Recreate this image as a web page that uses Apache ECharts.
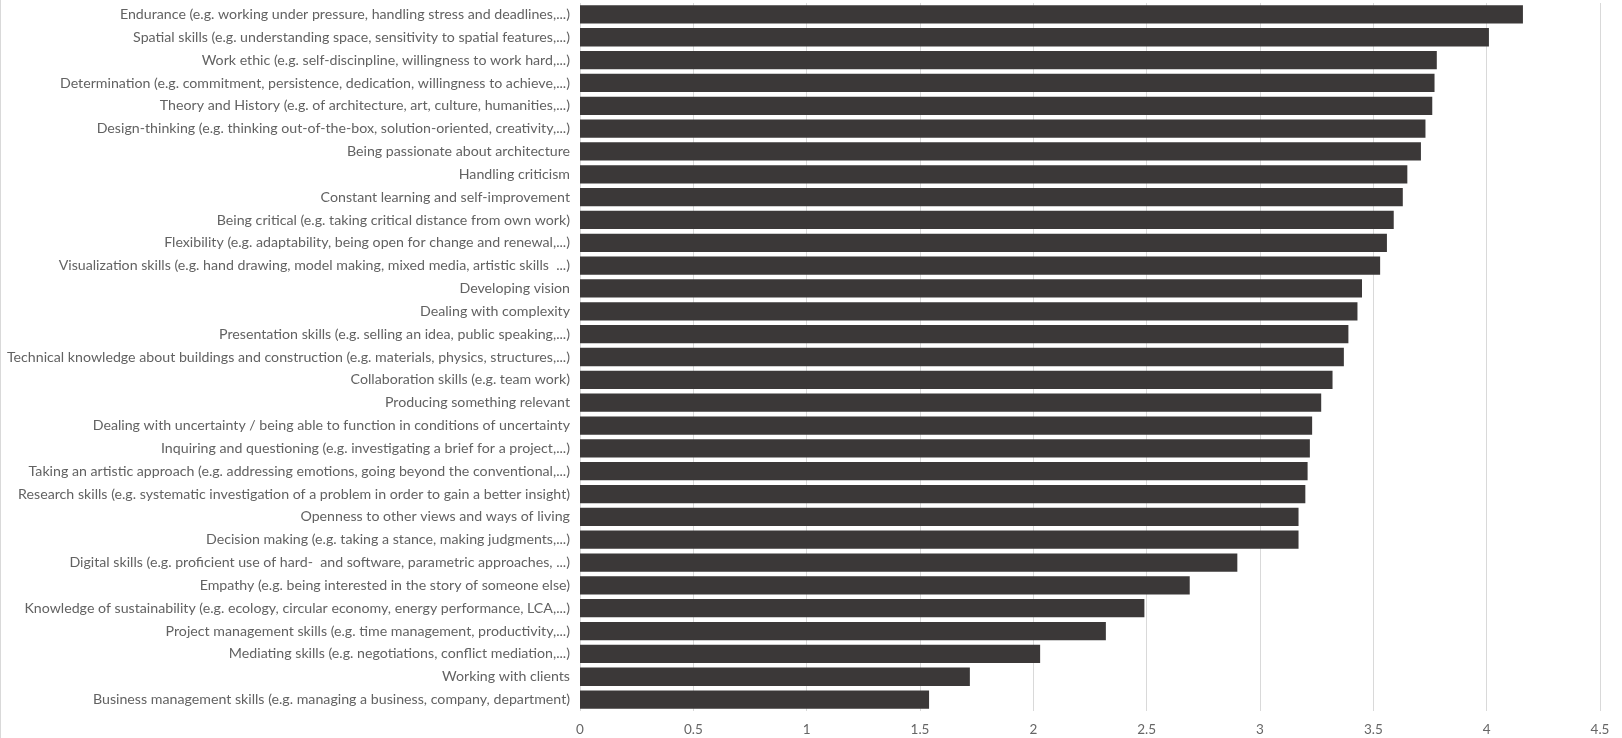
<!DOCTYPE html>
<html>
<head>
<meta charset="utf-8">
<title>Competences</title>
<script src="https://cdn.jsdelivr.net/npm/echarts@6/dist/echarts.min.js"></script>
<style>
  html, body { margin: 0; padding: 0; background: #ffffff; }
  #chart { width: 1622px; height: 738px; box-sizing: border-box; border-left: 1px solid #d9d9d9; }
</style>
</head>
<body>
<div id="chart"></div>
<script>
// Competences, from highest to lowest mean score
const categories = [
  "Endurance (e.g. working under pressure, handling stress and deadlines,...)",
  "Spatial skills (e.g. understanding space, sensitivity to spatial features,...)",
  "Work ethic (e.g. self-discinpline, willingness to work hard,...)",
  "Determination (e.g. commitment, persistence, dedication, willingness to achieve,...)",
  "Theory and History (e.g. of architecture, art, culture, humanities,...)",
  "Design-thinking (e.g. thinking out-of-the-box, solution-oriented, creativity,...)",
  "Being passionate about architecture",
  "Handling criticism",
  "Constant learning and self-improvement",
  "Being critical (e.g. taking critical distance from own work)",
  "Flexibility (e.g. adaptability, being open for change and renewal,...)",
  "Visualization skills (e.g. hand drawing, model making, mixed media, artistic skills  ...)",
  "Developing vision",
  "Dealing with complexity",
  "Presentation skills (e.g. selling an idea, public speaking,...)",
  "Technical knowledge about buildings and construction (e.g. materials, physics, structures,...)",
  "Collaboration skills (e.g. team work)",
  "Producing something relevant",
  "Dealing with uncertainty / being able to function in conditions of uncertainty",
  "Inquiring and questioning (e.g. investigating a brief for a project,...)",
  "Taking an artistic approach (e.g. addressing emotions, going beyond the conventional,...)",
  "Research skills (e.g. systematic investigation of a problem in order to gain a better insight)",
  "Openness to other views and ways of living",
  "Decision making (e.g. taking a stance, making judgments,...)",
  "Digital skills (e.g. proficient use of hard-  and software, parametric approaches, ...)",
  "Empathy (e.g. being interested in the story of someone else)",
  "Knowledge of sustainability (e.g. ecology, circular economy, energy performance, LCA,...)",
  "Project management skills (e.g. time management, productivity,...)",
  "Mediating skills (e.g. negotiations, conflict mediation,...)",
  "Working with clients",
  "Business management skills (e.g. managing a business, company, department)"
];

const scores = [
  4.16, 4.01, 3.78, 3.77, 3.76, 3.73, 3.71, 3.65, 3.63, 3.59, 3.56,
  3.53, 3.45, 3.43, 3.39, 3.37, 3.32, 3.27, 3.23, 3.22, 3.21, 3.20,
  3.17, 3.17, 2.90, 2.69, 2.49, 2.32, 2.03, 1.72, 1.54
];

const tickLabels = ["0", "0.5", "1", "1.5", "2", "2.5", "3", "3.5", "4", "4.5"];

const chart = echarts.init(document.getElementById('chart'), null, { renderer: 'canvas' });

chart.setOption({
  animation: false,
  backgroundColor: '#ffffff',
  grid: {
    left: 579, right: 22, top: 3, bottom: 27,
    containLabel: false,
    outerBoundsMode: 'none'
  },
  xAxis: {
    type: 'value',
    min: 0,
    max: 4.5,
    interval: 0.5,
    axisLine: { show: false },
    axisTick: { show: false },
    splitLine: { show: true, lineStyle: { color: '#d9d9d9', width: 1 } },
    axisLabel: {
      color: '#666666',
      fontFamily: 'Lato',
      fontSize: 13.5,
      margin: 12,
      formatter: function (v) {
        const i = Math.round(v / 0.5);
        return tickLabels[i] !== undefined ? tickLabels[i] : '';
      }
    }
  },
  yAxis: {
    type: 'category',
    inverse: true,
    data: categories,
    axisLine: { show: false },
    axisTick: { show: false },
    axisLabel: {
      color: '#626262',
      fontFamily: 'Lato',
      fontSize: 14.2,
      margin: 10
    }
  },
  series: [{
    type: 'bar',
    data: scores,
    barCategoryGap: '20%',
    itemStyle: { color: '#3b3838' }
  }]
});
</script>
</body>
</html>
